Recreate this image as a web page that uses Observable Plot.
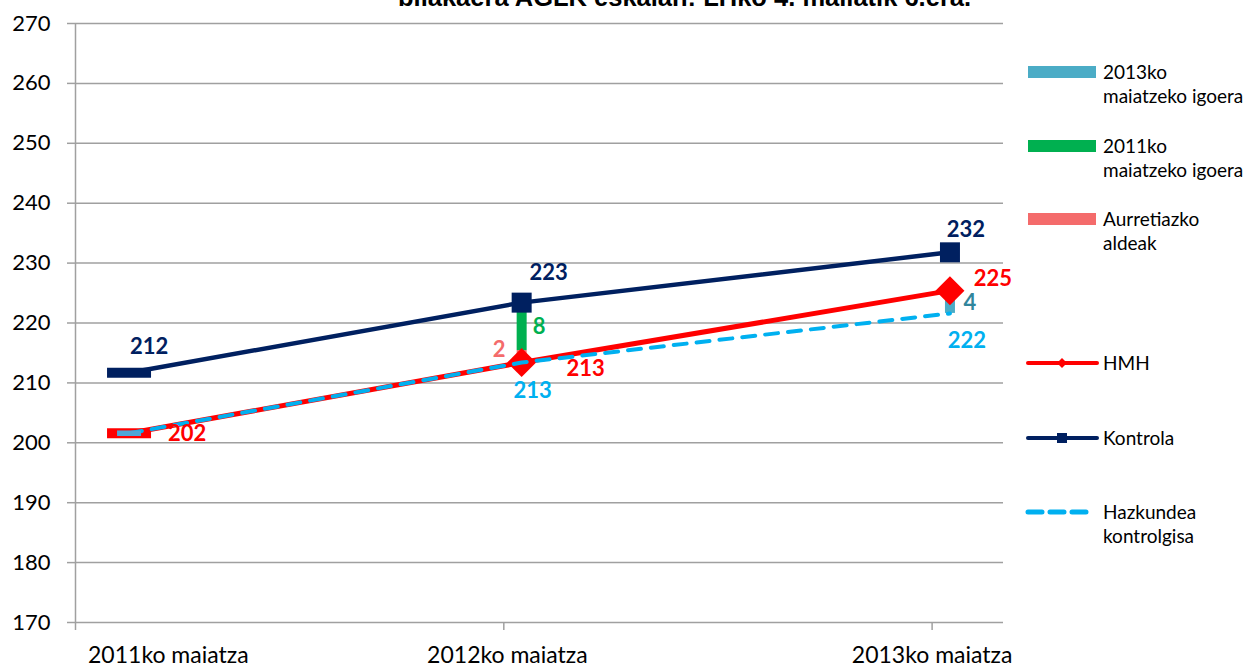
<!DOCTYPE html>
<html>
<head>
<meta charset="utf-8">
<script src="https://cdn.jsdelivr.net/npm/d3@7"></script>
<script src="https://cdn.jsdelivr.net/npm/@observablehq/plot@0.6"></script>
<style>
  html, body { margin: 0; padding: 0; background: #fff; width: 1254px; height: 668px; overflow: hidden; }
  #wrap { position: relative; width: 1254px; height: 668px; overflow: hidden; }
  #chart { position: absolute; left: 0; top: 0; }
  #title { position: absolute; left: 398px; top: -14.6px; font-family: "Liberation Sans", Arial, sans-serif; font-weight: bold; font-size: 25.5px; line-height: 25.5px; white-space: nowrap; color: #000; }
  .leg { position: absolute; font-family: Lato, sans-serif; font-size: 19px; line-height: 24.5px; color: #000; white-space: nowrap; }
  .sw { position: absolute; }
</style>
</head>
<body>
<div id="wrap">
  <div id="chart"></div>
  <div id="title">bilakaera AGLK eskalan: LHko 4. mailatik 6.era.</div>
  <div id="legend"></div>
</div>
<script>
// ---- data ----
const dates = ["2011ko maiatza", "2012ko maiatza", "2013ko maiatza"];
const months = [1.5, 12.5, 24.5];           // months after 2011ko maiatza
const tickMonths = [0, 12, 24];
const yTicks = [170, 180, 190, 200, 210, 220, 230, 240, 250, 260, 270];
const kontrola = [211.7, 223.4, 231.8];
const hmh = [201.6, 213.4, 225.4];
const hazkundea = [201.6, 213.4, 221.6];
const aurretiazkoAldeak = [null, 2, null];
const igoera2011 = [null, 8, null];
const igoera2013 = [null, null, 4];
const kontrolaLabels = ["212", "223", "232"];
const hmhLabels = ["202", "213", "225"];
const hazkundeaLabels = [null, "213", "222"];
const seriesNames = ["2013ko\nmaiatzeko igoera", "2011ko\nmaiatzeko igoera", "Aurretiazko\naldeak", "HMH", "Kontrola", "Hazkundea\nkontrolgisa"];

// ---- colours ----
const NAVY = "#002060", RED = "#FF0000", CYAN = "#00B0F0", TEAL = "#4BACC6", GREEN = "#00B050", SALMON = "#F46B6B", GRID = "#a0a0a0";

const idx = dates.map((d, i) => i);

// custom symbols
const flat = {draw(ctx, size) { const r = Math.sqrt(size / Math.PI); ctx.rect(-r, -r * 0.23, 2 * r, r * 0.46); }};
const square = {draw(ctx, size) { const r = Math.sqrt(size / Math.PI); ctx.rect(-r, -r, 2 * r, 2 * r); }};
const diamond = {draw(ctx, size) { const r = Math.sqrt(size / Math.PI); ctx.moveTo(0, -r); ctx.lineTo(r, 0); ctx.lineTo(0, r); ctx.lineTo(-r, 0); ctx.closePath(); }};

// bars (stacked segments)
const barSegs = [];
idx.forEach(i => {
  if (aurretiazkoAldeak[i] != null) {
    barSegs.push({i, y1: hmh[i], y2: hmh[i] + aurretiazkoAldeak[i], c: SALMON});
    barSegs.push({i, y1: hmh[i] + aurretiazkoAldeak[i], y2: hmh[i] + aurretiazkoAldeak[i] + igoera2011[i], c: GREEN});
  }
  if (igoera2013[i] != null) {
    barSegs.push({i, y1: hazkundea[i], y2: hazkundea[i] + igoera2013[i], c: TEAL});
  }
});

function label(i, yv, text, fill, dx, dy) {
  return Plot.text([text], {x: () => months[i], y: () => yv, text: d => d, fill, dx, dy,
    fontSize: 22, fontWeight: "bold", fontFamily: "Lato"});
}

const labelPos = [2.6, 12.1, 24];

const chart = Plot.plot({
  width: 1010, height: 668,
  marginLeft: 75, marginRight: 7, marginTop: 23, marginBottom: 46,
  x: {domain: [0, 26], axis: null},
  y: {domain: [170, 270], axis: null},
  style: {fontFamily: "Lato, sans-serif", color: "#000", background: "transparent", overflow: "visible"},
  marks: [
    Plot.ruleY(yTicks, {stroke: GRID, strokeWidth: 1.5}),
    Plot.ruleX([0], {stroke: GRID, strokeWidth: 1.5}),
    Plot.axisY({ticks: yTicks, tickSize: 8, tickPadding: 17, stroke: GRID, strokeWidth: 1.5, fontSize: 22, tickFormat: d => String(d)}),
    Plot.axisX({ticks: tickMonths, tickSize: 8, stroke: GRID, strokeWidth: 1.5, tickFormat: () => ""}),
    Plot.axisX({ticks: labelPos, tickSize: 0, tickPadding: 24, fontSize: 23,
      tickFormat: d => dates[labelPos.indexOf(d)]}),
    // bars
    Plot.ruleX(barSegs, {x: d => months[d.i], y1: "y1", y2: "y2", stroke: "c", strokeWidth: 10}),
    // Kontrola
    Plot.line(idx, {x: i => months[i], y: i => kontrola[i], stroke: NAVY, strokeWidth: 4.5}),
    Plot.dot([0], {x: i => months[i], y: i => kontrola[i], symbol: flat, r: 22, fill: NAVY}),
    Plot.dot([1, 2], {x: i => months[i], y: i => kontrola[i], symbol: square, r: 10, fill: NAVY}),
    // HMH
    Plot.line(idx, {x: i => months[i], y: i => hmh[i], stroke: RED, strokeWidth: 5}),
    Plot.dot([0], {x: i => months[i], y: i => hmh[i], symbol: flat, r: 22, fill: RED}),
    Plot.dot([1, 2], {x: i => months[i], y: i => hmh[i], symbol: diamond, r: 14.5, fill: RED}),
    // Hazkundea kontrolgisa
    Plot.line(idx, {x: i => months[i], y: i => hazkundea[i], stroke: CYAN, strokeWidth: 4, strokeDasharray: "13,10", strokeLinecap: "round"}),
    Plot.dot([0], {x: i => months[i], y: i => hazkundea[i], symbol: flat, r: 12, fill: "#4FA6D8"}),
    // labels
    label(0, kontrola[0], kontrolaLabels[0], NAVY, 20, -26),
    label(1, kontrola[1], kontrolaLabels[1], NAVY, 27, -30),
    label(2, kontrola[2], kontrolaLabels[2], NAVY, 16, -22),
    label(0, hmh[0], hmhLabels[0], RED, 58, 1),
    label(1, hmh[1], hmhLabels[1], RED, 64, 6),
    label(2, hmh[2], hmhLabels[2], RED, 43, -12),
    label(1, hazkundea[1], hazkundeaLabels[1], CYAN, 11, 28),
    label(2, hazkundea[2], hazkundeaLabels[2], CYAN, 17, 28),
    label(1, hmh[1] + aurretiazkoAldeak[1] + igoera2011[1] / 2, String(igoera2011[1]), GREEN, 17.5, 0),
    label(1, hmh[1], String(aurretiazkoAldeak[1]), SALMON, -22.5, -13),
    label(2, hazkundea[2] + igoera2013[2] / 2, String(igoera2013[2]), "#31859C", 20, 1.5)
  ]
});
document.getElementById("chart").appendChild(chart);

// ---- legend (HTML) ----
const legend = document.getElementById("legend");
const legItems = [
  {type: "bar", color: TEAL, y: 72},
  {type: "bar", color: GREEN, y: 146},
  {type: "bar", color: SALMON, y: 219},
  {type: "line", color: RED, y: 363, marker: "diamond"},
  {type: "line", color: NAVY, y: 438, marker: "square"},
  {type: "dash", color: CYAN, y: 512}
];
legItems.forEach((it, k) => {
  const sw = document.createElementNS("http://www.w3.org/2000/svg", "svg");
  sw.setAttribute("class", "sw");
  sw.setAttribute("width", 80); sw.setAttribute("height", 20);
  sw.style.left = "1022px"; sw.style.top = (it.y - 10) + "px";
  let inner = "";
  if (it.type === "bar") inner = `<rect x="6" y="4" width="68" height="12" fill="${it.color}"/>`;
  if (it.type === "line") {
    inner = `<line x1="6" x2="75" y1="10" y2="10" stroke="${it.color}" stroke-width="4" stroke-linecap="round"/>`;
    if (it.marker === "diamond") inner += `<path d="M40,5 L45,10 L40,15 L35,10 Z" fill="${it.color}"/>`;
    else inner += `<rect x="35" y="5" width="10" height="10" fill="${it.color}"/>`;
  }
  if (it.type === "dash") inner = `<line x1="6" x2="66" y1="10" y2="10" stroke="${it.color}" stroke-width="5" stroke-linecap="round" stroke-dasharray="14,8"/>`;
  sw.innerHTML = inner;
  legend.appendChild(sw);
  const t = document.createElement("div");
  t.className = "leg";
  const lines = seriesNames[k].split("\n");
  t.innerHTML = lines.join("<br>");
  t.style.left = "1103px";
  t.style.top = (it.y - 12.5) + "px";
  legend.appendChild(t);
});
</script>
</body>
</html>
